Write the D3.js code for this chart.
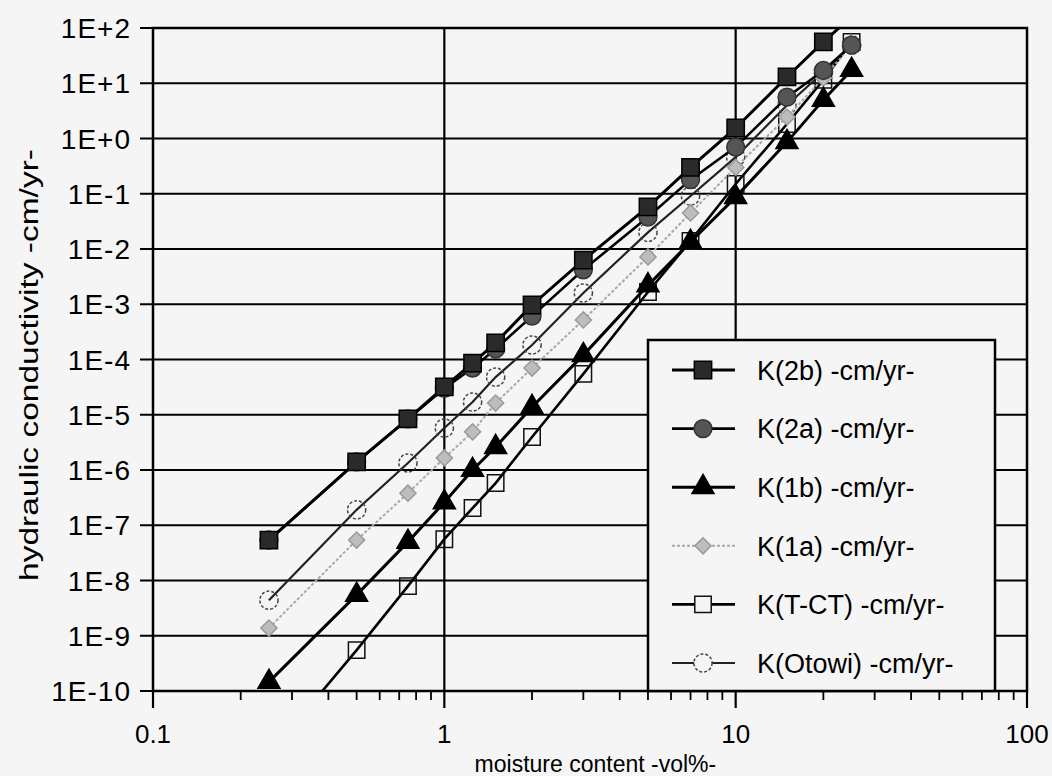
<!DOCTYPE html>
<html>
<head>
  <meta charset="UTF-8">
  <title>hydraulic conductivity</title>
  <script src="https://d3js.org/d3.v7.min.js"></script>
  <style>
    * { margin: 0; padding: 0; box-sizing: border-box; }
    body { background: #f5f5f5; font-family: "Liberation Sans", Arial, sans-serif; }
  </style>
</head>
<body>
  <div id="chart"></div>
  <script>
    // moisture content (vol%) shared by all series
    const moisture = [0.25, 0.5, 0.75, 1, 1.25, 1.5, 2, 3, 5, 7, 10, 15, 20, 25];

    // hydraulic conductivity, cm/yr
    const k2b   = [5.4e-8, 1.4e-6, 8.4e-6, 3.2e-5, 8.6e-5, 2.0e-4, 9.7e-4, 6.3e-3, 0.058, 0.30, 1.55, 13, 56, 160];
    const k2a   = [5.4e-8, 1.4e-6, 8.4e-6, 3.0e-5, 7.0e-5, 1.55e-4, 6.1e-4, 4.2e-3, 0.038, 0.18, 0.70, 5.6, 17, 49];
    const k1b   = [1.46e-10, 5.5e-9, 5.0e-8, 2.6e-7, 1.0e-6, 2.6e-6, 1.38e-5, 1.2e-4, 2.2e-3, 0.0134, 0.087, 0.86, 5.0, 17.4];
    const k1a   = [1.38e-9, 5.4e-8, 3.8e-7, 1.65e-6, 4.9e-6, 1.63e-5, 7.0e-5, 5.2e-4, 7.2e-3, 0.045, 0.30, 2.45, 12.4, 49];
    const kTCT  = [7e-12, 5.5e-10, 7.9e-9, 5.6e-8, 2.05e-7, 5.8e-7, 3.95e-6, 5.5e-5, 1.67e-3, 0.014, 0.15, 1.83, 11.5, 56];
    const kOtowi = [4.4e-9, 1.9e-7, 1.34e-6, 5.75e-6, 1.7e-5, 4.8e-5, 1.83e-4, 1.6e-3, 0.020, 0.091, 0.46, 4.0, 16, 49];

    const seriesNames = ["K(2b) -cm/yr-", "K(2a) -cm/yr-", "K(1b) -cm/yr-", "K(1a) -cm/yr-", "K(T-CT) -cm/yr-", "K(Otowi) -cm/yr-"];
    const yTicks = [1e-10, 1e-9, 1e-8, 1e-7, 1e-6, 1e-5, 1e-4, 1e-3, 1e-2, 1e-1, 1e0, 1e1, 1e2];
    const yTickLabels = ["1E-10", "1E-9", "1E-8", "1E-7", "1E-6", "1E-5", "1E-4", "1E-3", "1E-2", "1E-1", "1E+0", "1E+1", "1E+2"];
    const xTicks = [0.1, 1, 10, 100];
    const xTickLabels = ["0.1", "1", "10", "100"];

    const W = 1052, H = 776;
    const margin = {top: 28, right: 25, bottom: 85, left: 153};
    const width = W - margin.left - margin.right,
          height = H - margin.top - margin.bottom;

    const svg = d3.select("#chart").append("svg")
                  .attr("width", W).attr("height", H)
                  .style("display", "block");
    svg.append("rect").attr("width", W).attr("height", H).attr("fill", "#f5f5f5");

    const g = svg.append("g").attr("transform", `translate(${margin.left},${margin.top})`);

    const x = d3.scaleLog().domain([0.1, 100]).range([0, width]);
    const y = d3.scaleLog().domain([1e-10, 1e2]).range([height, 0]);

    g.append("clipPath").attr("id", "plot-clip")
     .append("rect").attr("width", width).attr("height", height);

    // grid
    g.append("g")
     .selectAll("line")
     .data(yTicks)
     .join("line")
     .attr("x1", 0).attr("x2", width)
     .attr("y1", d => y(d)).attr("y2", d => y(d))
     .attr("stroke", "#000").attr("stroke-width", 2.2);

    g.append("g")
     .selectAll("line")
     .data(xTicks.slice(1, -1))
     .join("line")
     .attr("x1", d => x(d)).attr("x2", d => x(d))
     .attr("y1", 0).attr("y2", height)
     .attr("stroke", "#000").attr("stroke-width", 2.2);

    // series
    const series = [
      {name: seriesNames[0], values: k2b,   line: "#000", lw: 3,   dash: null,  sym: d3.symbolSquare, size: 300, fill: "#2a2a2a", stroke: "#000", sdash: null, rot: 0},
      {name: seriesNames[1], values: k2a,   line: "#000", lw: 2.6, dash: null,  sym: d3.symbolCircle, size: 250, fill: "#555", stroke: "#333", sdash: null, rot: 0},
      {name: seriesNames[2], values: k1b,   line: "#000", lw: 3,   dash: null,  sym: d3.symbolTriangle, size: 210, fill: "#000", stroke: "#000", sdash: null, rot: 0},
      {name: seriesNames[3], values: k1a,   line: "#a8a8a8", lw: 2, dash: "3,2", sym: d3.symbolSquare, size: 130, fill: "#bdbdbd", stroke: "#9a9a9a", sdash: null, rot: 45},
      {name: seriesNames[4], values: kTCT,  line: "#000", lw: 2.6, dash: null,  sym: d3.symbolSquare, size: 270, fill: "none", stroke: "#111", sdash: null, rot: 0},
      {name: seriesNames[5], values: kOtowi, line: "#222", lw: 2.2, dash: null, sym: d3.symbolCircle, size: 260, fill: "none", stroke: "#444", sdash: "3,2", rot: 0}
    ];

    const line = d3.line().x(d => x(d[0])).y(d => y(d[1]));
    const plot = g.append("g").attr("clip-path", "url(#plot-clip)");

    // draw from last to first so 2b sits on top
    series.slice().reverse().forEach(s => {
      const pts = moisture.map((m, i) => [m, s.values[i]]);
      plot.append("path")
          .datum(pts)
          .attr("d", line)
          .attr("fill", "none")
          .attr("stroke", s.line)
          .attr("stroke-width", s.lw)
          .attr("stroke-dasharray", s.dash);
      plot.selectAll(null)
          .data(pts)
          .join("path")
          .attr("d", d3.symbol().type(s.sym).size(s.size))
          .attr("transform", d => `translate(${x(d[0])},${y(d[1])}) rotate(${s.rot})`)
          .attr("fill", s.fill)
          .attr("stroke", s.stroke)
          .attr("stroke-width", 1.5)
          .attr("stroke-dasharray", s.sdash);
    });

    // frame
    g.append("rect").attr("width", width).attr("height", height)
     .attr("fill", "none").attr("stroke", "#000").attr("stroke-width", 2.5);

    // y axis ticks
    const yMinor = y.ticks().filter(t => !yTicks.some(v => Math.abs(Math.log10(v) - Math.log10(t)) < 1e-6));
    g.append("g").selectAll("line").data(yMinor).join("line")
     .attr("x1", -6).attr("x2", 0)
     .attr("y1", d => y(d)).attr("y2", d => y(d))
     .attr("stroke", "#000").attr("stroke-width", 1.3);
    g.append("g").selectAll("line").data(yTicks).join("line")
     .attr("x1", -13).attr("x2", 0)
     .attr("y1", d => y(d)).attr("y2", d => y(d))
     .attr("stroke", "#000").attr("stroke-width", 2);
    g.append("g").selectAll("text").data(yTicks).join("text")
     .attr("x", -22).attr("y", d => y(d)).attr("dy", "0.36em")
     .attr("text-anchor", "end")
     .style("font-size", "28px")
     .style("letter-spacing", "1px")
     .text((d, i) => yTickLabels[i]);

    // x axis ticks
    const xMinor = x.ticks().filter(t => !xTicks.some(v => Math.abs(Math.log10(v) - Math.log10(t)) < 1e-6));
    g.append("g").selectAll("line").data(xMinor).join("line")
     .attr("x1", d => x(d)).attr("x2", d => x(d))
     .attr("y1", height).attr("y2", height + 9)
     .attr("stroke", "#000").attr("stroke-width", 1.8);
    g.append("g").selectAll("line").data(xTicks).join("line")
     .attr("x1", d => x(d)).attr("x2", d => x(d))
     .attr("y1", height).attr("y2", height + 17)
     .attr("stroke", "#000").attr("stroke-width", 2.2);
    g.append("g").selectAll("text").data(xTicks).join("text")
     .attr("x", d => x(d)).attr("y", height + 52)
     .attr("text-anchor", "middle")
     .style("font-size", "26px")
     .text((d, i) => xTickLabels[i]);

    // axis titles
    svg.append("text")
       .attr("x", margin.left + x(3.3)).attr("y", 772)
       .attr("text-anchor", "middle")
       .style("font-size", "23px")
       .text("moisture content -vol%-");
    svg.append("text")
       .attr("transform", `translate(38,${(148 + 582) / 2}) rotate(-90)`)
       .attr("text-anchor", "middle")
       .attr("textLength", 432)
       .attr("lengthAdjust", "spacingAndGlyphs")
       .style("font-size", "25px")
       .text("hydraulic conductivity -cm/yr-");

    // legend
    const legend = svg.append("g").attr("transform", "translate(648,340)");
    legend.append("rect")
          .attr("width", 347).attr("height", 351)
          .attr("fill", "#f5f5f5").attr("stroke", "#000").attr("stroke-width", 2.5);
    series.forEach((s, i) => {
      const ly = 30 + i * 58.6;
      const row = legend.append("g").attr("transform", `translate(0,${ly})`);
      row.append("line").attr("x1", 24).attr("x2", 87).attr("y1", 0).attr("y2", 0)
         .attr("stroke", s.line).attr("stroke-width", s.lw)
         .attr("stroke-dasharray", s.dash);
      row.append("path")
         .attr("d", d3.symbol().type(s.sym).size(s.size))
         .attr("transform", `translate(55,0) rotate(${s.rot})`)
         .attr("fill", s.fill === "none" ? "#f5f5f5" : s.fill)
         .attr("stroke", s.stroke).attr("stroke-width", 1.5)
         .attr("stroke-dasharray", s.sdash);
      row.append("text")
         .attr("x", 109).attr("y", 0).attr("dy", "0.36em")
         .style("font-size", "27px")
         .text(s.name);
    });
  </script>
</body>
</html>
